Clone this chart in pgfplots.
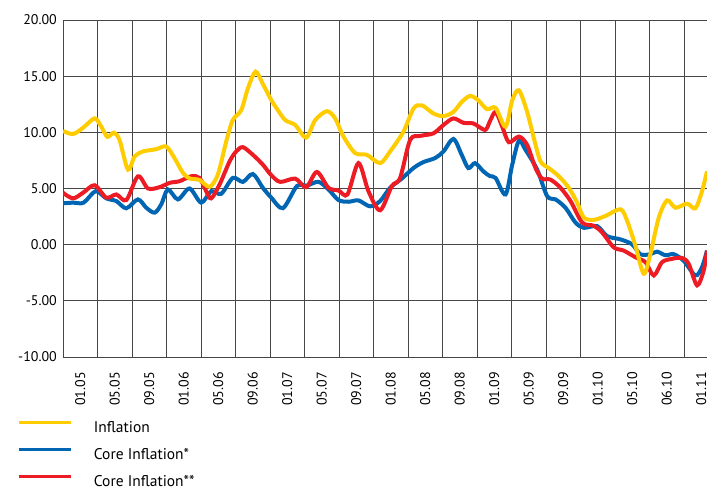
\documentclass[border=0pt]{standalone}
\usepackage{fontspec}
\setmainfont{PT Sans}
\usepackage{pgfplots}
\pgfplotsset{compat=1.18}
\definecolor{infl}{RGB}{255,204,0}
\definecolor{coreA}{RGB}{0,102,179}
\definecolor{coreB}{RGB}{237,28,36}
\definecolor{gridc}{RGB}{70,70,70}
\begin{document}
\begin{tikzpicture}
\begin{axis}[
  at={(0,0)}, anchor=south west,
  scale only axis, width=644bp, height=337bp,
  xmin=0, xmax=74.66, ymin=-10, ymax=20,
  axis x line=bottom, axis y line=left,
  axis line style={-, gridc, line width=1bp},
  xtick={2,6,...,74},
  xticklabels={01.05,05.05,09.05,01.06,05.06,09.06,01.07,05.07,09.07,01.08,05.08,09.08,01.09,05.09,09.09,01.10,05.10,06.10,01.11},
  minor xtick={0,4,...,72},
  xminorgrids=true, xmajorgrids=false,
  ytick={-10,-5,0,5,10,15,20},
  yticklabels={-10.00,-5.00,0.00,5.00,10.00,15.00,20.00},
  ymajorgrids=true,
  grid style={gridc, line width=1bp},
  minor grid style={gridc, line width=1bp},
  major tick length=0pt, minor tick length=0pt,
  xticklabel style={rotate=90, anchor=east, inner sep=0pt, font=\fontsize{14bp}{16bp}\selectfont},
  xticklabel shift=15bp,
  yticklabel style={anchor=east, inner sep=0pt, font=\fontsize{14bp}{16bp}\selectfont},
  yticklabel shift=6bp,
  legend style={at={(-0.0714,-0.188)}, anchor=north west, draw=none, fill=none, inner sep=0pt,
    row sep=12bp, column sep=22bp,
    nodes={inner sep=0pt, text height=12bp, text depth=3bp, font=\fontsize{15.5bp}{18bp}\selectfont}},
  legend cell align=left,
  legend image code/.code={\draw[#1, line width=2.7bp] (0bp,5.5bp) -- (52bp,5.5bp);},
]
\addplot[coreA, line width=4bp, smooth, forget plot] coordinates {
(0,3.68) (1.16,3.74) (2.39,3.74) (3.78,4.76) (5.02,4.12) (6.18,3.88) (7.34,3.24) (8.69,4.03) (9.65,3.29) (10.62,2.85) (11.39,3.59) (12.16,4.91) (13.32,4.03) (14.67,5.0) (16.02,3.74) (17.18,4.76) (18.34,4.53) (19.69,5.94) (20.85,5.59) (22.01,6.29) (23.17,5.06) (24.13,4.2) (25.5,3.25) (27.11,5.21) (28.27,5.26) (29.62,5.59) (30.78,4.91) (31.94,3.97) (33.1,3.82) (34.25,3.94) (35.61,3.41) (36.76,3.88) (37.92,5.06) (39.27,5.88) (40.63,6.82) (41.78,7.35) (43.14,7.71) (44.1,8.29) (45.26,9.41) (46.22,8.0) (46.99,6.82) (47.77,7.26) (48.73,6.53) (49.5,6.1) (50.15,5.94) (51.3,4.47) (52.08,7.12) (52.85,9.24) (53.62,8.44) (54.97,6.68) (56.13,4.32) (57.1,4.03) (58.25,3.29) (59.41,1.97) (60.38,1.5) (61.92,1.65) (63.08,0.76) (64.63,0.47) (65.98,0.03) (66.94,-0.85) (68.1,-0.85) (68.87,-0.62) (69.84,-0.94) (70.8,-0.85) (71.96,-1.44) (73.31,-2.74) (74.08,-2.0) (74.66,-0.53)
};
\addplot[coreB, line width=4bp, smooth, forget plot] coordinates {
(0,4.62) (1.16,4.12) (2.32,4.62) (3.67,5.29) (5.02,4.18) (6.18,4.47) (7.34,3.97) (8.69,6.09) (9.85,5.0) (11.2,5.12) (12.36,5.5) (13.51,5.65) (14.86,6.09) (15.83,5.94) (16.6,4.76) (17.18,4.12) (18.15,5.35) (19.31,7.41) (20.08,8.3) (20.85,8.68) (22.01,8.0) (23.17,7.12) (24.13,6.2) (25.18,5.59) (26.92,5.88) (28.19,5.12) (29.43,6.47) (30.78,5.06) (31.94,4.82) (32.98,4.47) (34.25,7.26) (35.41,4.76) (36.76,3.06) (38.12,5.21) (39.08,5.94) (40.24,9.32) (41.4,9.68) (42.94,9.91) (44.1,10.65) (45.26,11.24) (46.42,10.85) (47.58,10.79) (48.93,10.21) (49.5,11.0) (50.15,11.82) (50.92,10.5) (51.69,9.12) (52.85,9.62) (53.81,8.88) (54.78,6.82) (55.55,5.88) (56.52,5.79) (57.68,5.06) (58.84,3.88) (60.19,1.97) (61.54,1.68) (62.5,1.09) (63.85,-0.24) (65.01,-0.53) (66.36,-1.12) (67.52,-1.56) (68.49,-2.74) (69.45,-1.56) (70.61,-1.26) (71.77,-1.18) (72.54,-1.71) (73.51,-3.62) (74.28,-2.29) (74.66,-0.53)
};
\addplot[infl, line width=4bp, smooth, forget plot] coordinates {
(0,10.12) (1.16,9.85) (2.32,10.4) (3.67,11.24) (4.44,10.5) (5.14,9.6) (5.91,9.97) (6.56,9.3) (7.53,6.68) (8.3,7.85) (9.27,8.3) (10.81,8.5) (11.97,8.74) (12.93,7.7) (13.9,6.4) (14.67,5.9) (15.83,5.76) (16.99,5.15) (17.95,6.24) (18.92,9.18) (19.69,11.1) (20.66,11.97) (21.43,13.9) (22.32,15.4) (23.17,14.3) (24.13,12.9) (24.8,12.1) (25.76,11.09) (26.92,10.65) (28.19,9.53) (29.24,11.09) (30.59,11.88) (31.55,11.24) (32.52,9.62) (33.87,8.15) (35.22,8.0) (36.76,7.26) (37.92,8.3) (39.47,10.06) (40.63,12.12) (41.59,12.41) (42.94,11.68) (44.1,11.44) (45.26,11.82) (46.22,12.7) (47.19,13.24) (48.15,12.85) (49.15,12.06) (50.15,12.18) (51.3,10.5) (52.08,12.85) (52.85,13.74) (53.81,11.82) (54.59,9.47) (55.36,7.41) (56.32,6.82) (57.48,6.09) (58.64,5.06) (59.61,3.74) (60.38,2.41) (61.54,2.21) (62.89,2.56) (64.63,3.15) (65.4,2.12) (66.36,-0.09) (67.33,-2.59) (68.1,-0.82) (69.07,2.41) (70.03,3.94) (71.0,3.29) (72.35,3.65) (73.31,3.24) (74.08,4.76) (74.66,6.53)
};
\addlegendimage{infl}
\addlegendentry{Inflation}
\addlegendimage{coreA}
\addlegendentry{Core Inflation*}
\addlegendimage{coreB}
\addlegendentry{Core Inflation**}
\end{axis}
\pgfresetboundingbox
\useasboundingbox (-63bp,-131bp) rectangle (644bp,357bp);
\end{tikzpicture}
\end{document}
